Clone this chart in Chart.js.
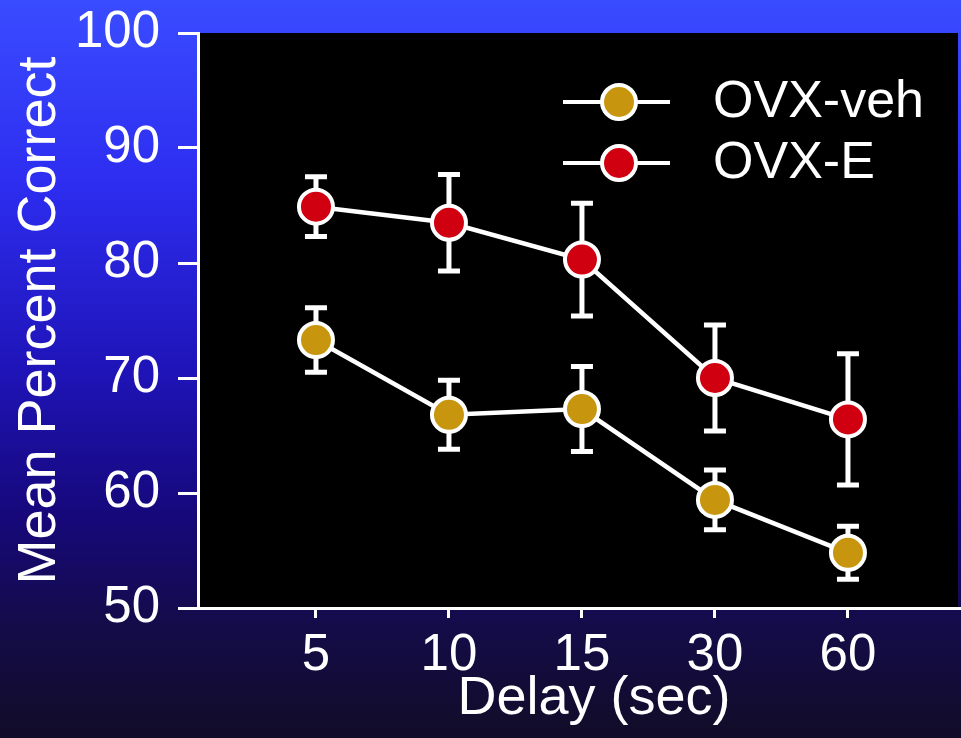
<!DOCTYPE html>
<html><head><meta charset="utf-8">
<script src="https://cdn.jsdelivr.net/npm/chart.js@4.4.1/dist/chart.umd.min.js"></script>
<style>html,body{margin:0;padding:0;background:#120c28;overflow:hidden}#wrap{width:961px;height:738px;position:relative;overflow:hidden}canvas{display:block}</style>
</head><body><div id="wrap"><canvas id="c" width="990" height="738"></canvas></div>
<script>
// ---- data ----
const delays = ['5', '10', '15', '30', '60'];
const seriesNames = ['OVX-veh', 'OVX-E'];
const ovxVeh = [73.3, 66.8, 67.3, 59.4, 54.8];
const ovxVehSem = [2.8, 3.0, 3.7, 2.6, 2.3];
const ovxE = [84.9, 83.5, 80.3, 70.0, 66.4];
const ovxESem = [2.6, 4.2, 4.9, 4.6, 5.7];
const yTickValues = [50, 55, 60, 65, 70, 75, 80, 85, 90, 95, 100];
const yTickLabels = ['50', '', '60', '', '70', '', '80', '', '90', '', '100'];
const xTitle = 'Delay (sec)';
const yTitle = 'Mean Percent Correct';

const FONT = "'Liberation Sans', Arial, Helvetica, sans-serif";
const GOLD = '#c8960e';
const RED = '#d00010';
const VIEW_W = 961;

const bgPlugin = {
  id: 'bg',
  beforeDraw(chart) {
    const {ctx, width, height, chartArea: a} = chart;
    ctx.save();
    const g = ctx.createLinearGradient(0, 0, 0, height);
    g.addColorStop(0, '#3a4cff');
    g.addColorStop(0.25, '#2d2df0');
    g.addColorStop(0.5, '#1f14b8');
    g.addColorStop(0.7, '#16087a');
    g.addColorStop(0.85, '#140c48');
    g.addColorStop(1, '#120c28');
    ctx.fillStyle = g;
    ctx.fillRect(0, 0, width, height);
    ctx.fillStyle = '#000';
    ctx.fillRect(a.left, a.top, Math.min(a.right, VIEW_W - 3) - a.left, a.bottom - a.top);
    ctx.restore();
  }
};

const errPlugin = {
  id: 'errbars',
  beforeDatasetsDraw(chart) {
    const {ctx, scales: {x, y}} = chart;
    ctx.save();
    ctx.strokeStyle = '#ffffff';
    ctx.lineWidth = 5;
    chart.data.datasets.forEach(ds => {
      ds.data.forEach((p, i) => {
        const e = ds.sem[i];
        const px = x.getPixelForValue(p.x);
        const top = y.getPixelForValue(p.y + e);
        const bot = y.getPixelForValue(p.y - e);
        ctx.beginPath();
        ctx.moveTo(px, top); ctx.lineTo(px, bot);
        ctx.moveTo(px - 11, top); ctx.lineTo(px + 11, top);
        ctx.moveTo(px - 11, bot); ctx.lineTo(px + 11, bot);
        ctx.stroke();
      });
    });
    ctx.restore();
  }
};

const legendPlugin = {
  id: 'customLegend',
  afterDatasetsDraw(chart) {
    const {ctx} = chart;
    ctx.save();
    const x0 = 563, x1 = 670, cx = 619, tx = 713;
    const rows = [102, 163];
    chart.data.datasets.forEach((ds, i) => {
      const yy = rows[i];
      ctx.strokeStyle = '#fff';
      ctx.lineWidth = 4;
      ctx.beginPath(); ctx.moveTo(x0, yy); ctx.lineTo(x1, yy); ctx.stroke();
      ctx.beginPath(); ctx.arc(cx, yy, 17, 0, Math.PI * 2);
      ctx.fillStyle = ds.pointBackgroundColor; ctx.fill();
      ctx.lineWidth = 4; ctx.stroke();
      ctx.fillStyle = '#fff';
      ctx.font = '52px ' + FONT;
      ctx.textBaseline = 'middle';
      ctx.textAlign = 'left';
      ctx.fillText(ds.label, tx, yy + 1);
    });
    ctx.restore();
  }
};

const mk = (vals) => vals.map((v, i) => ({x: i, y: v}));

new Chart(document.getElementById('c'), {
  type: 'line',
  data: {
    datasets: [
      {label: seriesNames[0], data: mk(ovxVeh), sem: ovxVehSem,
       borderColor: '#fff', borderWidth: 4.5, pointBackgroundColor: GOLD,
       pointBorderColor: '#fff', pointBorderWidth: 4, pointRadius: 17, clip: false},
      {label: seriesNames[1], data: mk(ovxE), sem: ovxESem,
       borderColor: '#fff', borderWidth: 4.5, pointBackgroundColor: RED,
       pointBorderColor: '#fff', pointBorderWidth: 4, pointRadius: 17, clip: false}
    ]
  },
  options: {
    responsive: false,
    animation: false,
    layout: {autoPadding: false, padding: {top: 33, left: 0, right: 0, bottom: 0}},
    plugins: {legend: {display: false}, tooltip: {enabled: false}},
    scales: {
      x: {
        type: 'linear', min: -0.887, max: 5.068,
        afterBuildTicks: s => { s.ticks = delays.map((d, i) => ({value: i})); },
        afterFit: s => { s.height = 130; s.paddingLeft = 0; s.paddingRight = 0; },
        ticks: {color: '#fff', font: {family: FONT, size: 51}, padding: 7,
                callback: (v) => delays[v]},
        grid: {drawOnChartArea: false, color: '#fff', lineWidth: 3, tickLength: 10},
        border: {color: '#fff', width: 3},
        title: {display: true, text: xTitle, color: '#fff', font: {family: FONT, size: 54, lineHeight: 1.1},
                padding: {top: 0, bottom: 9}}
      },
      y: {
        min: 50, max: 100,
        afterBuildTicks: s => { s.ticks = yTickValues.map(v => ({value: v})); },
        afterFit: s => { s.width = 198; s.paddingTop = 0; s.paddingBottom = 0; },
        ticks: {color: '#fff', font: {family: FONT, size: 51}, padding: 18,
                callback: (v, i) => yTickLabels[i]},
        grid: {drawOnChartArea: false, color: '#fff', lineWidth: 3, tickLength: 20},
        border: {color: '#fff', width: 3},
        title: {display: true, text: yTitle, color: '#fff', font: {family: FONT, size: 54, lineHeight: 1.1},
                padding: {top: 10, bottom: 0}}
      }
    }
  },
  plugins: [bgPlugin, errPlugin, legendPlugin]
});
</script></body></html>
